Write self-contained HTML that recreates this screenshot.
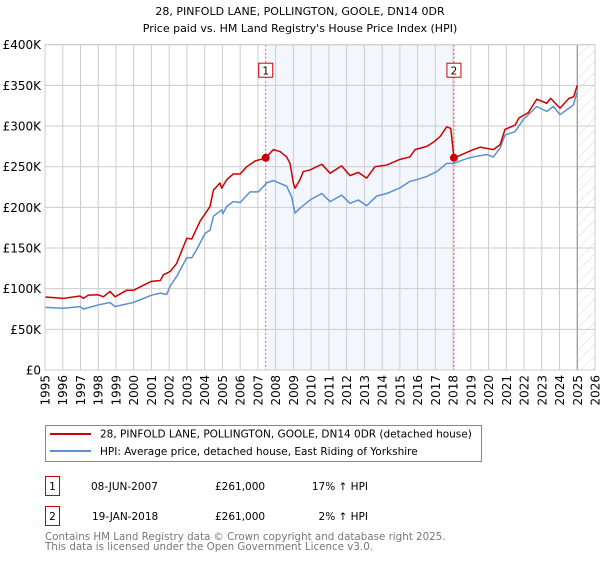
<!DOCTYPE html>
<html><head><meta charset="utf-8"><style>
body{margin:0;background:#fff;}
svg text{font-family:"DejaVu Sans","Liberation Sans",sans-serif;}
</style></head><body>
<svg id="chart" width="600" height="560" viewBox="0 0 600 560" xmlns="http://www.w3.org/2000/svg">
<defs><pattern id="hatch" patternUnits="userSpaceOnUse" width="8" height="8" patternTransform="rotate(45)"><line x1="0" y1="0" x2="0" y2="8" stroke="#d8d8d8" stroke-width="1"/></pattern></defs>
<text x="300" y="15" text-anchor="middle" font-size="11">28, PINFOLD LANE, POLLINGTON, GOOLE, DN14 0DR</text>
<text x="300" y="32" text-anchor="middle" font-size="11">Price paid vs. HM Land Registry's House Price Index (HPI)</text>
<g id="plot"></g>
<rect x="45.5" y="425.5" width="436" height="36" fill="#fff" stroke="#888"/>
<line x1="50" y1="434" x2="91" y2="434" stroke="#cc0000" stroke-width="2"/>
<text x="100" y="437.5" font-size="10.5">28, PINFOLD LANE, POLLINGTON, GOOLE, DN14 0DR (detached house)</text>
<line x1="50" y1="451" x2="91" y2="451" stroke="#5b8fd0" stroke-width="2"/>
<text x="100" y="455" font-size="10.5">HPI: Average price, detached house, East Riding of Yorkshire</text>
<rect x="45.5" y="476.5" width="14" height="19" fill="#fff" stroke="#cc0000"/>
<text x="52.5" y="490" text-anchor="middle" font-size="10.5">1</text>
<text x="91" y="490" font-size="10.5">08-JUN-2007</text>
<text x="215" y="490" font-size="10.5">£261,000</text>
<text x="368" y="490" text-anchor="end" font-size="10.5">17% ↑ HPI</text>
<rect x="45.5" y="506.5" width="14" height="19" fill="#fff" stroke="#cc0000"/>
<text x="52.5" y="520" text-anchor="middle" font-size="10.5">2</text>
<text x="92" y="520" font-size="10.5">19-JAN-2018</text>
<text x="215" y="520" font-size="10.5">£261,000</text>
<text x="368" y="520" text-anchor="end" font-size="10.5">2% ↑ HPI</text>
<text x="45" y="540" font-size="10.3" fill="#777">Contains HM Land Registry data © Crown copyright and database right 2025.</text>
<text x="45" y="550" font-size="10.3" fill="#777">This data is licensed under the Open Government Licence v3.0.</text>
</svg>
<script>
const hpiYears=[1995,1996.03,1996.97,1997.16,1998,1998.66,1998.95,1999.98,2001,2001.5,2001.86,2002.05,2002.42,2002.99,2003.27,2003.55,2004.02,2004.3,2004.49,2004.96,2005.02,2005.24,2005.61,2006,2006.56,2007.02,2007.5,2007.87,2008.62,2008.9,2009.09,2009.37,2009.94,2010.6,2011.07,2011.72,2012.19,2012.66,2013.13,2013.7,2014.26,2015.01,2015.57,2015.95,2016.52,2017.08,2017.64,2018.02,2018.77,2019.14,2019.9,2020.27,2020.65,2020.93,2021.49,2021.96,2022.72,2023.28,2023.65,2024.03,2024.41,2024.78,2025.0];
const hpiValues=[77,76,78,75,80,83,78,83,92,94.5,93,103,115,138,138,148,168,172,189,197,192,201,207,206,219,219,230,233,226,213,193,199,209,217,207,215,205,209,202,214,217,224,232,234,238,244,254,254,260,262,265,262,273,289,293,308,324,318,324,314,320,326,342];
const priceYears=[1995,1996.03,1996.97,1997.16,1997.44,1998,1998.29,1998.66,1998.95,1999.6,1999.98,2001,2001.5,2001.67,2002.05,2002.42,2002.99,2003.27,2003.74,2004.3,2004.49,2004.86,2004.96,2005.24,2005.61,2006,2006.37,2006.84,2007.31,2007.44,2007.87,2008.25,2008.62,2008.81,2009.0,2009.09,2009.37,2009.56,2009.94,2010.6,2011.07,2011.72,2012.19,2012.66,2013.13,2013.6,2014.26,2015.01,2015.57,2015.85,2016.52,2016.89,2017.27,2017.64,2017.87,2018.05,2018.4,2019.14,2019.52,2020.27,2020.65,2020.93,2021.49,2021.72,2022.24,2022.72,2023.28,2023.5,2024.03,2024.53,2024.8,2025.0];
const priceValues=[89.7,88,91,88,92,92.5,90,96.6,90,98,98,109,110,117,121,131,162,161,183,201,221,230,223.5,234,241,241,250,257,260,261,271,268.6,262,254,230,223.5,234,244,246,253,242,251,239,243,236,250,252,259,262,271,275,280,287,299,297,261,264,271,274,271,277,296,301,310,316.5,333,328,334,322,334,336,350];
const saleYears=[2007.44,2018.05];
const saleValues=[261,261];
const saleLabels=["1","2"];
const yTicks=[0,50,100,150,200,250,300,350,400];
const yTickLabels=["£0","£50K","£100K","£150K","£200K","£250K","£300K","£350K","£400K"];
const xTicks=[1995,1996,1997,1998,1999,2000,2001,2002,2003,2004,2005,2006,2007,2008,2009,2010,2011,2012,2013,2014,2015,2016,2017,2018,2019,2020,2021,2022,2023,2024,2025,2026];

const L=45,R=595,T=44.7,B=370,X0=1995,X1=2026,YMAX=400;
const xs=y=>L+(y-X0)/(X1-X0)*(R-L);
const ys=v=>B-v/YMAX*(B-T);
const NS="http://www.w3.org/2000/svg";
const g=document.getElementById('plot');
function mk(tag,attrs){const e=document.createElementNS(NS,tag);for(const k in attrs)e.setAttribute(k,attrs[k]);g.appendChild(e);return e;}

let e=mk('rect',{x:xs(saleYears[0]),y:T,width:xs(saleYears[1])-xs(saleYears[0]),height:B-T,fill:'#eef3fc',opacity:0.7});


e=mk('rect',{x:xs(2025),y:T,width:R-xs(2025),height:B-T,fill:'url(#hatch)'});



yTicks.forEach((t,i)=>{
  let l=mk('line',{x1:L,x2:R,y1:ys(t),y2:ys(t),stroke:'#ccc','stroke-width':1});
  
  
  let tx=mk('text',{x:L-4,y:ys(t)+4.5,'text-anchor':'end','font-size':'12'});
  tx.textContent=yTickLabels[i];
  
  
});
xTicks.forEach(t=>{
  let l=mk('line',{x1:xs(t),x2:xs(t),y1:T,y2:B,stroke:'#ccc','stroke-width':1});
  
  
  let tx=mk('text',{x:0,y:0,'text-anchor':'end','font-size':'12',transform:`translate(${xs(t)+4.5},${B+5}) rotate(-90)`});
  tx.textContent=t;
  
  
});
e=mk('line',{x1:xs(2025),x2:xs(2025),y1:T,y2:B,stroke:'#888','stroke-width':1});



saleYears.forEach((y,i)=>{
  let l=mk('line',{x1:xs(y),x2:xs(y),y1:T,y2:B,stroke:'#e06060','stroke-width':1,'stroke-dasharray':'2,2'});
  
  
  let r=mk('rect',{x:xs(y)-7,y:T+18.5,width:14,height:14,fill:'#fff',stroke:'#cc0000'});
  
  
  let tx=mk('text',{x:xs(y),y:T+30,'text-anchor':'middle','font-size':'10.5'});
  tx.textContent=saleLabels[i];
  
  
});

e=mk('polyline',{points:hpiYears.map((y,i)=>xs(y)+','+ys(hpiValues[i])).join(' '),fill:'none',stroke:'#5b8fd0','stroke-width':1.5,'stroke-linejoin':'round'});


e=mk('polyline',{points:priceYears.map((y,i)=>xs(y)+','+ys(priceValues[i])).join(' '),fill:'none',stroke:'#cc0000','stroke-width':1.5,'stroke-linejoin':'round'});


saleYears.forEach((y,i)=>{
  let c=mk('circle',{cx:xs(y),cy:ys(saleValues[i]),r:4,fill:'#cc0000'});
  
  
});
e=mk('rect',{x:L,y:T,width:R-L,height:B-T,fill:'none',stroke:'#ccc'});


</script>
</body></html>
